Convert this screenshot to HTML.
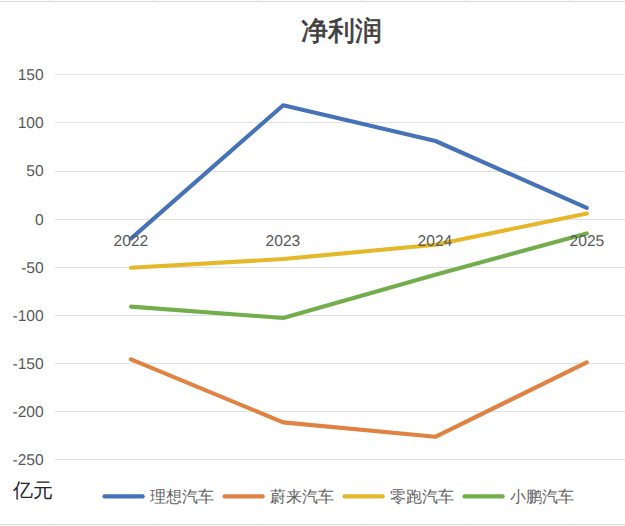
<!DOCTYPE html>
<html><head><meta charset="utf-8">
<style>
html,body{margin:0;padding:0;background:#fff;width:625px;height:526px;overflow:hidden}
svg{display:block}
.ax{font-family:"Liberation Sans",sans-serif;font-size:15.6px;fill:#595959;text-rendering:geometricPrecision}
.ttl{font-family:"Liberation Serif",serif;font-size:27px;font-weight:400;fill:#404040;stroke:#404040;stroke-width:0.7px}
.unit{font-family:"Liberation Sans",sans-serif;font-size:20px;fill:#262626}
.lg{font-family:"Liberation Sans",sans-serif;font-size:16.3px;fill:#626262}
</style></head><body>
<svg width="625" height="526" viewBox="0 0 625 526">
<rect width="625" height="526" fill="#fff"/>
<g stroke="#d9d9d9" stroke-width="1">
<line x1="0" y1="1.5" x2="625" y2="1.5"/>
<line x1="0" y1="524.5" x2="625" y2="524.5"/>
</g>
<rect x="50" y="0" width="1" height="1" fill="#dedede"/><rect x="50" y="525" width="1" height="1" fill="#dedede"/><rect x="154" y="0" width="1" height="1" fill="#dedede"/><rect x="154" y="525" width="1" height="1" fill="#dedede"/><rect x="258" y="0" width="1" height="1" fill="#dedede"/><rect x="258" y="525" width="1" height="1" fill="#dedede"/><rect x="362" y="0" width="1" height="1" fill="#dedede"/><rect x="362" y="525" width="1" height="1" fill="#dedede"/><rect x="466" y="0" width="1" height="1" fill="#dedede"/><rect x="466" y="525" width="1" height="1" fill="#dedede"/><rect x="570" y="0" width="1" height="1" fill="#dedede"/><rect x="570" y="525" width="1" height="1" fill="#dedede"/>
<g stroke="#e1e1e1" stroke-width="1">
<line x1="55" y1="74.5" x2="625" y2="74.5"/>
<line x1="55" y1="122.5" x2="625" y2="122.5"/>
<line x1="55" y1="171.5" x2="625" y2="171.5"/>
<line x1="55" y1="219.5" x2="625" y2="219.5"/>
<line x1="55" y1="267.5" x2="625" y2="267.5"/>
<line x1="55" y1="315.5" x2="625" y2="315.5"/>
<line x1="55" y1="363.5" x2="625" y2="363.5"/>
<line x1="55" y1="411.5" x2="625" y2="411.5"/>
<line x1="55" y1="459.5" x2="625" y2="459.5"/>
</g>
<g class="ax" text-anchor="end">
<text transform="translate(43.7,80) scale(1,1)">150</text>
<text transform="translate(43.7,128) scale(1,1)">100</text>
<text transform="translate(43.7,176) scale(1,1)">50</text>
<text transform="translate(43.7,225) scale(1,1)">0</text>
<text transform="translate(43.7,273) scale(1,1)">-50</text>
<text transform="translate(43.7,321) scale(1,1)">-100</text>
<text transform="translate(43.7,369) scale(1,1)">-150</text>
<text transform="translate(43.7,417) scale(1,1)">-200</text>
<text transform="translate(43.7,465) scale(1,1)">-250</text>
</g>
<text class="ttl" x="341" y="39.5" text-anchor="middle">净利润</text>
<g fill="none" stroke-width="4.1" stroke-linecap="round" stroke-linejoin="round">
<polyline stroke="#4672b8" points="131,238.6 283.2,105.2 435.5,141 586.8,207.8"/>
<polyline stroke="#df8242" points="131,359.4 283.2,422.4 435.3,436.8 586.8,362.4"/>
<polyline stroke="#e4b829" points="131,267.8 283.2,259 435.3,244.8 586.8,213.5"/>
<polyline stroke="#72ae4c" points="131,306.6 283.2,318 435.3,274.8 586.8,233.4"/>
</g>
<g class="ax" text-anchor="middle">
<text transform="translate(130.9,246) scale(1,1)">2022</text>
<text transform="translate(282.9,246) scale(1,1)">2023</text>
<text transform="translate(434.9,246) scale(1,1)">2024</text>
<text transform="translate(586.9,246) scale(1,1)">2025</text>
</g>
<text class="unit" x="13" y="497">亿元</text>
<g stroke-width="4.1" stroke-linecap="round">
<line x1="104.5" y1="496.4" x2="142.7" y2="496.4" stroke="#4672b8"/>
<line x1="224.5" y1="496.4" x2="262.7" y2="496.4" stroke="#df8242"/>
<line x1="344.5" y1="496.4" x2="382.7" y2="496.4" stroke="#e4b829"/>
<line x1="464.5" y1="496.4" x2="502.7" y2="496.4" stroke="#72ae4c"/>
</g>
<g class="lg">
<text x="150" y="502">理想汽车</text>
<text x="270" y="502">蔚来汽车</text>
<text x="390" y="502">零跑汽车</text>
<text x="510" y="502">小鹏汽车</text>
</g>
</svg>
</body></html>
